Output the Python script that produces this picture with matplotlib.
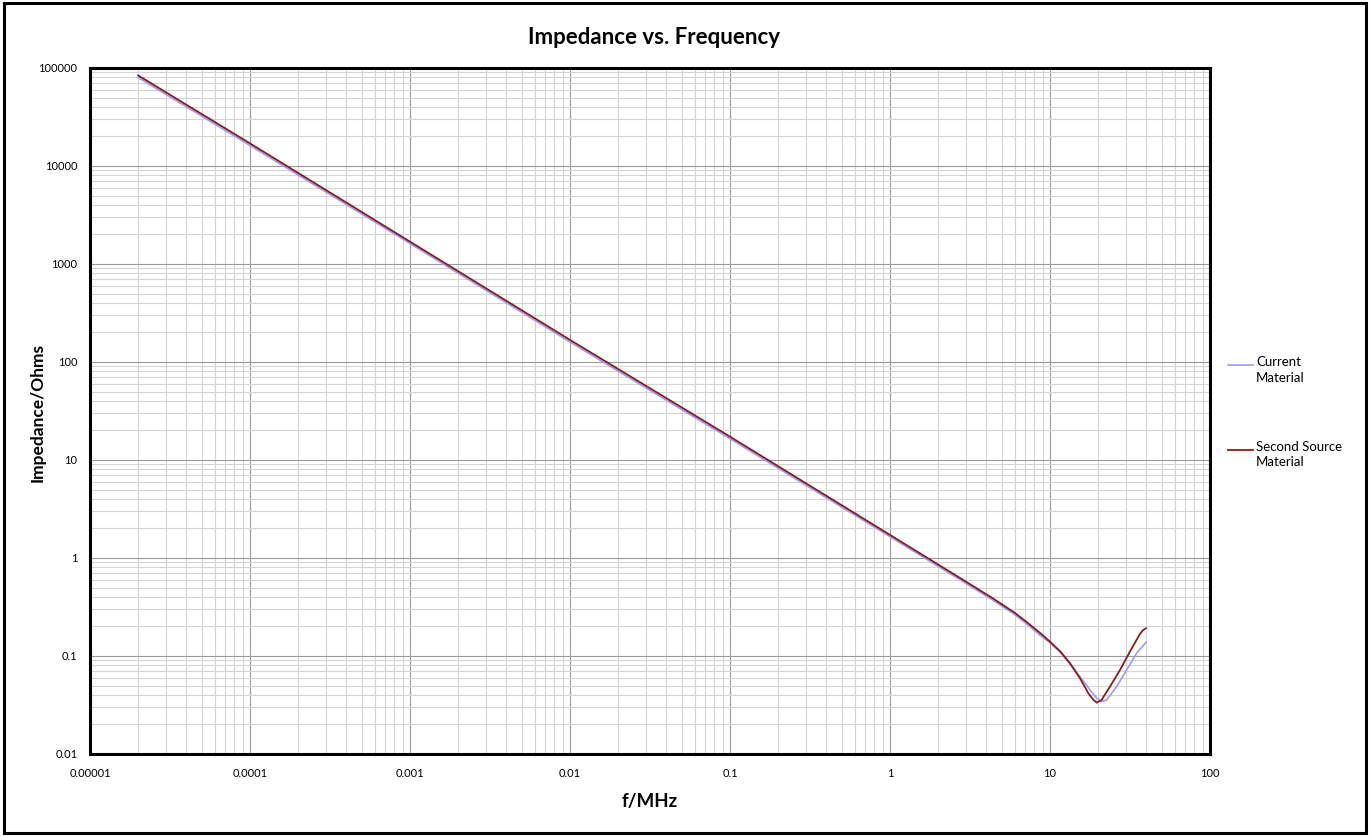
import matplotlib
matplotlib.use("Agg")
import matplotlib.pyplot as plt
from matplotlib.ticker import FixedLocator, LogLocator, NullFormatter
from matplotlib.lines import Line2D
from matplotlib.patches import Rectangle
import numpy as np

# ---- data ----
freq_current = [2e-5, 1e-4, 1e-3, 1e-2, 1e-1, 1.0, 2.74, 4.42, 6.0, 7.15, 8.66, 9.86,
                11.55, 13.3, 15.4, 17.8, 19.6, 21.0, 22.6, 26.1, 30.1, 34.8, 39.8]
z_current = [80000, 16200, 1620, 160, 16.5, 1.65, 0.60, 0.37, 0.266, 0.213, 0.163, 0.139,
             0.11, 0.083, 0.0615, 0.045, 0.037, 0.0342, 0.0356, 0.0487, 0.072, 0.107, 0.138]

freq_second = [2e-5, 1e-4, 1e-3, 1e-2, 1e-1, 1.0, 2.74, 4.42, 6.0, 7.15, 8.66, 9.86,
               11.55, 13.3, 15.4, 17.36, 18.7, 19.6, 21.0, 23.7, 27.4, 31.6, 36.5, 38.2, 39.8]
z_second = [84000, 17000, 1690, 168, 17.3, 1.72, 0.625, 0.385, 0.277, 0.222, 0.172, 0.143,
            0.112, 0.085, 0.0592, 0.0417, 0.0356, 0.0334, 0.0356, 0.0487, 0.072, 0.111, 0.168,
            0.184, 0.192]

series_labels = ["Current\nMaterial", "Second Source\nMaterial"]
series_colors = ["#9a9aff", "#8b1a1a"]

x_ticks = [1e-5, 1e-4, 1e-3, 1e-2, 1e-1, 1, 10, 100]
x_ticklabels = ["0.00001", "0.0001", "0.001", "0.01", "0.1", "1", "10", "100"]
y_ticks = [0.01, 0.1, 1, 10, 100, 1000, 10000, 100000]
y_ticklabels = ["0.01", "0.1", "1", "10", "100", "1000", "10000", "100000"]

title = "Impedance vs. Frequency"
xlabel = "f/MHz"
ylabel = "Impedance/Ohms"

# ---- figure ----
W, H = 1370, 836
fig = plt.figure(figsize=(W / 100, H / 100), dpi=100)
fig.patch.set_facecolor("white")
ax = fig.add_axes([90 / W, 1 - 754 / H, (1210 - 90) / W, (754 - 68) / H])

ax.set_xscale("log")
ax.set_yscale("log")
ax.set_xlim(x_ticks[0], x_ticks[-1])
ax.set_ylim(y_ticks[0], y_ticks[-1])

ax.xaxis.set_major_locator(FixedLocator(x_ticks))
ax.yaxis.set_major_locator(FixedLocator(y_ticks))
ax.set_xticklabels(x_ticklabels)
ax.set_yticklabels(y_ticklabels)
ax.xaxis.set_minor_locator(LogLocator(base=10, subs=np.arange(2, 10), numticks=100))
ax.yaxis.set_minor_locator(LogLocator(base=10, subs=np.arange(2, 10), numticks=100))
ax.xaxis.set_minor_formatter(NullFormatter())
ax.yaxis.set_minor_formatter(NullFormatter())

ax.grid(True, which="major", color="#9a9a9a", linewidth=0.8)
ax.grid(True, which="minor", color="#d4d4d4", linewidth=0.8)
ax.set_axisbelow(True)

ax.tick_params(which="both", length=0)
ax.tick_params(axis="x", pad=10, labelsize=8)
ax.tick_params(axis="y", pad=9, labelsize=8)
for lab in ax.get_xticklabels() + ax.get_yticklabels():
    lab.set_fontfamily("Lato")

for sp in ax.spines.values():
    sp.set_linewidth(2.2)
    sp.set_color("black")

l1, = ax.plot(freq_current, z_current, color=series_colors[0], linewidth=1.2)
l2, = ax.plot(freq_second, z_second, color=series_colors[1], linewidth=1.3)

fig.text(654 / W, 1 - 37 / H, title, ha="center", va="center",
         fontsize=16, fontweight="bold", family="Lato")
fig.text(650 / W, 1 - 802 / H, xlabel, ha="center", va="center",
         fontsize=13.5, fontweight="bold", family="Lato")
fig.text(38 / W, 1 - 412 / H, ylabel, ha="center", va="center", rotation=90,
         fontsize=12.5, fontweight="bold", family="Lato")

# legend (manual, handle aligned with first line of each label)
leg_y = [365, 450]
for line, lab, yy in zip([l1, l2], series_labels, leg_y):
    fig.add_artist(Line2D([1228 / W, 1253 / W], [1 - yy / H, 1 - yy / H],
                          transform=fig.transFigure, color=line.get_color(),
                          linewidth=line.get_linewidth()))
    fig.text(1256 / W, 1 - (yy - 9) / H, lab, ha="left", va="top",
             fontsize=9.5, family="Lato", linespacing=1.35)

# outer border
fig.add_artist(Rectangle((4 / W, 3 / H), (W - 8) / W, (H - 6) / H,
                         transform=fig.transFigure, fill=False,
                         edgecolor="black", linewidth=2.2))

fig.savefig("out.png", dpi=100)
